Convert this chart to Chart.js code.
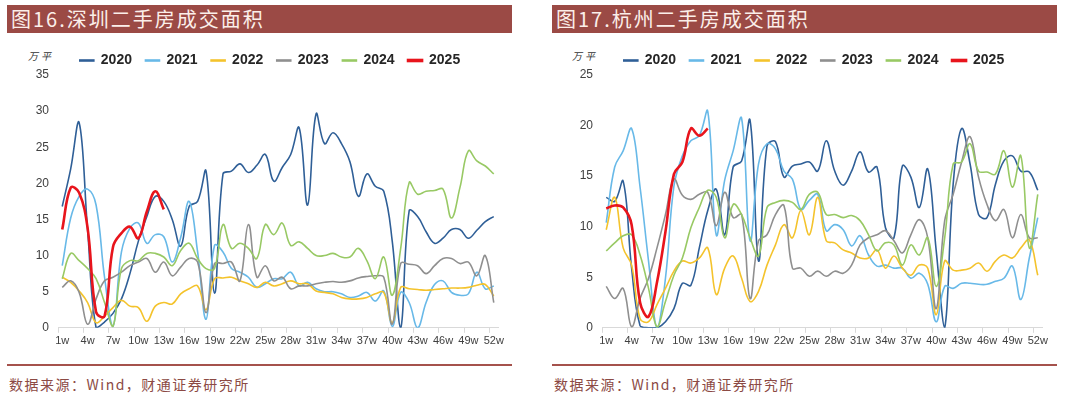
<!DOCTYPE html>
<html>
<head>
<meta charset="utf-8">
<script src="https://cdn.jsdelivr.net/npm/chart.js@4.4.1/dist/chart.umd.min.js"></script>
<style>
body { margin: 0; width: 1080px; height: 397px; background: #fff; position: relative; overflow: hidden; font-family: "Noto Sans CJK SC", sans-serif; }
.bar { position: absolute; top: 5px; height: 28px; width: 505px; background: #9b4a45; color: #fbefea; font-size: 20px; line-height: 28px; padding-left: 4px; box-sizing: border-box; letter-spacing: 2px; }
.rule { position: absolute; top: 364px; height: 2px; width: 505px; background: #a5524c; }
.src { position: absolute; top: 375px; font-size: 14px; line-height: 18px; color: #8c4a44; letter-spacing: 1.5px; }
.unit { position: absolute; top: 49px; font-size: 10px; line-height: 14px; font-style: italic; color: #333; letter-spacing: 3px; }
.box { position: absolute; top: 40px; width: 532px; height: 312px; }
</style>
</head>
<body>
<div class="bar" style="left:7px">图16.深圳二手房成交面积</div>
<div class="bar" style="left:552px">图17.杭州二手房成交面积</div>
<div class="unit" style="left:28px">万平</div>
<div class="unit" style="left:572px">万平</div>
<div class="box" style="left:0px"><canvas id="szChart"></canvas></div>
<div class="box" style="left:544px"><canvas id="hzChart"></canvas></div>
<div class="rule" style="left:7px"></div>
<div class="rule" style="left:552px"></div>
<div class="src" style="left:9px">数据来源：Wind，财通证券研究所</div>
<div class="src" style="left:554px">数据来源：Wind，财通证券研究所</div>

<script>
const weeks = [];
for (let i = 1; i <= 52; i++) weeks.push(i + "w");

const years = ["2020", "2021", "2022", "2023", "2024", "2025"];
const colors = ["#2f5f97", "#68b9e8", "#f4c32c", "#8f8f8f", "#98c964", "#e8141c"];
const widths = [1.6, 1.6, 1.6, 1.6, 1.6, 2.6];

// 深圳 (万平)
const sz2020 = [16.8, 22, 28.4, 13.5, 0, 0.8, 2, 4, 7.5, 12, 15.4, 18.2, 17.5, 15, 11.3, 16.8, 17.5, 21.7, 4.8, 21.3, 21.7, 22.7, 21.5, 22.5, 24, 20.3, 22.2, 24, 27.7, 17, 29.6, 25.5, 27, 25.5, 23, 18.2, 21.3, 19.6, 18.9, 12, 0, 16.2, 15.4, 13.3, 11.7, 12.4, 13.6, 13.6, 12.4, 13.5, 14.7, 15.4];
const sz2021 = [8.6, 15.2, 18.2, 19.2, 17, 7, 0.2, 10.5, 13.8, 14.5, 11.7, 12.9, 12.6, 9.1, 12.5, 17.5, 10.5, 1.2, 11.4, 10.5, 8.2, 7.7, 7, 5.6, 6.1, 6.8, 6.8, 7.7, 5.8, 6.3, 5.4, 5, 5, 4.7, 4.2, 4.4, 4.9, 3.7, 5.1, 0.2, 4.9, 3.5, 0, 3.5, 6, 6.5, 4.9, 4.5, 4.7, 7.7, 5.4, 5.8];
const sz2022 = [7, 6.3, 5.1, 3.5, 0.7, 1.6, 2.8, 3.8, 3, 2.8, 0.9, 3, 3.5, 3.3, 4.7, 5.4, 5.8, 2.5, 6.8, 6.9, 7, 6.5, 6.1, 5.6, 6.3, 5.8, 6.1, 6.5, 6.1, 6.1, 5.1, 4.9, 4.7, 4.2, 4, 4, 4.2, 4.7, 4.9, 0.7, 5.6, 5.4, 5.3, 5.2, 5.3, 5.4, 5.5, 5.5, 5.6, 5.9, 6, 4.4];
const sz2023 = [5.6, 6.5, 4.9, 0.5, 4, 6.5, 7, 7.7, 8.6, 9.1, 9.6, 7.7, 9.1, 7.2, 8.4, 9.6, 9.1, 2.1, 8.9, 8.9, 9.1, 6.5, 14.3, 7, 8.6, 6.5, 7, 5.4, 5.8, 5.8, 6.1, 6.3, 6.4, 6.3, 6.5, 6.9, 7.1, 7.2, 7, 0.5, 8.9, 8.8, 8.6, 7.5, 8.6, 9.6, 9.6, 8.9, 9.1, 7.2, 10, 3.5];
const sz2024 = [6.8, 10.3, 9.3, 8.2, 6.8, 3.5, 0.2, 8.2, 9.3, 9.3, 10.3, 10.3, 9.8, 8.6, 10.7, 11.7, 9.6, 8.2, 8.2, 14.3, 11, 11.7, 11, 9.6, 14.3, 12.9, 14.5, 11.4, 11.9, 11, 10, 10, 10.3, 9.8, 9.8, 11, 9.3, 6.8, 9.8, 4.5, 11, 20.1, 18.5, 18.9, 19, 19.2, 15.2, 19.4, 24.5, 23.1, 22.4, 21.3];
const sz2025 = [13.6, 19.4, 18.7, 13.8, 2.2, 1.6, 11.2, 13.1, 14, 12.4, 16.1, 18.9, 16.4];

// 杭州 (万平)
const hz2020 = [12.9, 12.5, 14.5, 5.9, 0.2, 0, 0, 0.6, 1.9, 4.4, 4.2, 7.9, 11.6, 13.7, 9.2, 15.9, 16.5, 20.5, 6.6, 18, 18.4, 14.9, 16, 16.2, 16.4, 15.5, 18.5, 15.5, 14.1, 15.5, 17.4, 15.4, 15.9, 9.9, 8.9, 16, 14.9, 11.9, 15.7, 7.6, 0, 14.2, 19.7, 16.2, 11.2, 10.9, 14.2, 16.5, 17, 15.5, 15.4, 13.6];
const hz2021 = [10.4, 15.9, 17.5, 19.7, 13.9, 6.6, 0, 4.9, 14, 17, 18.5, 19, 21.4, 9.2, 14.6, 17.5, 20.7, 8.6, 16.2, 18.2, 17.7, 15.5, 14.7, 11.7, 12.6, 13.2, 9.6, 10.2, 9.7, 8.1, 9.1, 7.2, 6.1, 6.2, 5.9, 5.9, 4.9, 5.4, 4.3, 0.6, 4.1, 3.9, 4.4, 4.4, 4.3, 4.3, 4.6, 4.9, 6.1, 2.8, 6.9, 10.9];
const hz2022 = [9.7, 12.9, 7.9, 6.2, 0.9, 0.6, 2.3, 3.9, 5.6, 6.6, 6.4, 6.9, 7.9, 3.3, 5.9, 7.1, 4.9, 2.6, 3.6, 6.2, 8.2, 10.2, 8.9, 11.6, 9.2, 12.9, 8.6, 8.4, 7.7, 7.4, 6.9, 6.9, 7.7, 5.9, 7.1, 5.9, 5.2, 6.2, 5.9, 1.3, 6.6, 5.7, 5.7, 5.9, 6.4, 5.6, 6.6, 7.2, 6.9, 7.9, 8.7, 5.2];
const hz2023 = [4.1, 2.9, 3.9, 0.1, 2.9, 4.9, 7.9, 11.2, 14.7, 13.1, 12.7, 13.2, 13.4, 10.1, 13.4, 10.9, 11.2, 2.9, 8.6, 9.2, 11.2, 12.1, 5.9, 5.9, 5.1, 5.6, 5.1, 5.6, 5.4, 6.2, 8.2, 8.9, 9.2, 9.6, 8.6, 7.4, 9.2, 10.7, 8.9, 1.9, 10.6, 13.2, 16.4, 18.9, 14.9, 12.2, 10.6, 11.7, 8.9, 11.2, 8.9, 8.9];
const hz2024 = [7.6, 8.4, 9.1, 9.2, 7.2, 3.9, 0.1, 2.6, 5.2, 6.9, 9.9, 11.9, 13.6, 12.9, 8.9, 12.2, 11.2, 8.9, 7.1, 11.9, 12.4, 12.6, 12.4, 11.7, 13.2, 13.4, 11.2, 11.2, 10.9, 11.1, 10.6, 9.2, 7.6, 8.4, 8.2, 6.2, 8.2, 7.2, 8.9, 4.1, 8.9, 16.2, 16.4, 18.2, 15.5, 15.4, 15.2, 17.5, 13.9, 17, 7.9, 13.2];
const hz2025 = [11.8, 12.1, 11.9, 10.2, 2.5, 1.1, 4.5, 9.5, 15.2, 16.4, 19.7, 19, 19.7];

Chart.defaults.font.family = '"Liberation Sans", Arial, sans-serif';
Chart.defaults.color = "#404040";

// legend sits a bit tighter to the plot and centred over the plot, not the canvas
const legendGap = {
    id: "legendGap",
    beforeInit(chart) {
        const fit = chart.legend.fit;
        chart.legend.fit = function () {
            fit.call(this);
            this.height -= 2.5;
        };
    },
    afterLayout(chart) {
        chart.legend.left += 42;
    }
};

function makeChart(id, series, yMax) {
    new Chart(document.getElementById(id), {
        type: "line",
        data: {
            labels: weeks,
            datasets: series.map((d, i) => ({
                label: years[i],
                data: d,
                borderColor: colors[i],
                backgroundColor: colors[i],
                borderWidth: widths[i],
                pointRadius: 0,
                tension: 0.4,
                order: 6 - i
            }))
        },
        options: {
            responsive: true,
            maintainAspectRatio: false,
            animation: false,
            layout: { padding: { left: 0, right: 34, top: 0, bottom: 2 } },
            plugins: {
                legend: {
                    position: "top",
                    labels: {
                        boxWidth: 14,
                        boxHeight: 1,
                        padding: 13.5,
                        color: "#262626",
                        font: { size: 14, weight: "bold" },
                        sort: (a, b) => a.datasetIndex - b.datasetIndex
                    }
                },
                tooltip: { enabled: false }
            },
            scales: {
                x: {
                    offset: true,
                    border: { color: "#d9d9d9" },
                    grid: {
                        offset: true,
                        drawOnChartArea: false,
                        tickLength: 5,
                        color: (ctx) => ctx.index % 3 === 0 ? "#d9d9d9" : "rgba(0,0,0,0)"
                    },
                    ticks: {
                        autoSkip: false,
                        maxRotation: 0,
                        padding: 2,
                        font: { size: 11 },
                        callback: (v, i) => i % 3 === 0 ? weeks[i] : ""
                    }
                },
                y: {
                    min: 0,
                    max: yMax,
                    border: { display: false },
                    grid: { display: false, drawTicks: false },
                    ticks: { stepSize: 5, padding: 9, font: { size: 12 } },
                    afterFit: (s) => { s.width = 58; }
                }
            }
        },
        plugins: [legendGap]
    });
}

makeChart("szChart", [sz2020, sz2021, sz2022, sz2023, sz2024, sz2025], 35);
makeChart("hzChart", [hz2020, hz2021, hz2022, hz2023, hz2024, hz2025], 25);
</script>
</body>
</html>
